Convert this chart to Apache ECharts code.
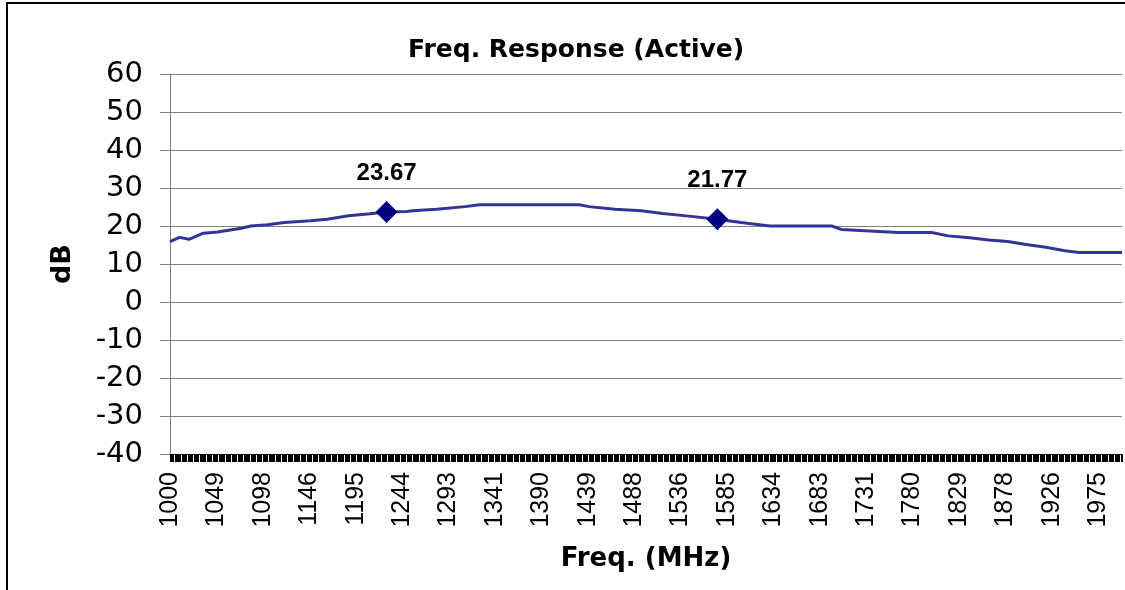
<!DOCTYPE html>
<html>
<head>
<meta charset="utf-8">
<script src="https://cdn.jsdelivr.net/npm/echarts@6/dist/echarts.min.js"></script>
<style>
  body { margin: 0; background: #fff; }
  #echartLine { width: 1125px; height: 590px; }
  #frame {
    position: absolute; left: 6px; top: 2px; width: 1200px; height: 700px;
    border-left: 2px solid #000; border-top: 2px solid #000; pointer-events: none;
  }
</style>
</head>
<body>
<div id="echartLine"></div>
<div id="frame"></div>
<script>
// sweep: 801 points, 1000 - 2000 MHz
const startFreq = 1000;
const stepFreq = 1.25;
const pointCount = 801;
const freqs = [];
for (let i = 0; i < pointCount; i++) {
  freqs.push(String(startFreq + i * stepFreq));
}

// trace (MHz, dB)
const traceFreq = [1000, 1010, 1020, 1035, 1050, 1075, 1085, 1102.5, 1120, 1147.5,
  1165, 1187.5, 1210, 1227.5, 1248.75, 1255, 1280, 1310, 1325, 1430,
  1440, 1467.5, 1495, 1517.5, 1545, 1575, 1600, 1630, 1695, 1705,
  1765, 1800, 1817.5, 1840, 1860, 1880, 1897.5, 1920, 1940, 1955, 2000];
const traceDb = [15.9, 17.0, 16.5, 18.1, 18.4, 19.4, 20.0, 20.3, 20.9, 21.4,
  21.8, 22.7, 23.2, 23.67, 23.8, 24.0, 24.4, 25.1, 25.6, 25.6,
  25.1, 24.4, 24.0, 23.3, 22.6, 21.77, 20.9, 20.0, 20.0, 19.1,
  18.3, 18.3, 17.4, 16.9, 16.3, 15.9, 15.2, 14.4, 13.5, 13.0, 13.0];

// markers (GPS L2 / L1)
const markerFreq = [1227.5, 1575];
const markerDb = [23.67, 21.77];

function idxOf(f) {
  return Math.round((f - startFreq) / stepFreq);
}

var chartDom = document.getElementById('echartLine');
var myChart = echarts.init(chartDom);
var option;

option = {
  animation: false,
  backgroundColor: '#fff',
  title: {
    text: 'Freq. Response (Active)',
    left: 403,
    top: 33,
    textStyle: { fontFamily: 'DejaVu Sans', fontWeight: 'bold', fontSize: 25, color: '#000' }
  },
  grid: { left: 170, right: 3, top: 74, bottom: 136 },
  xAxis: {
    type: 'category',
    data: freqs,
    boundaryGap: false,
    name: 'Freq. (MHz)',
    nameLocation: 'middle',
    nameGap: 92,
    nameTextStyle: { fontFamily: 'DejaVu Sans', fontWeight: 'bold', fontSize: 26, color: '#000' },
    axisLine: { onZero: false, lineStyle: { color: '#000', width: 1 } },
    axisTick: { interval: 0, length: 8, lineStyle: { color: '#000' } },
    axisLabel: {
      interval: 38,
      rotate: 90,
      margin: 18,
      fontFamily: 'Liberation Sans',
      fontSize: 25,
      color: '#000',
      formatter: function (v) { return String(Math.round(parseFloat(v))); }
    },
    splitLine: { show: false }
  },
  yAxis: {
    type: 'value',
    min: -40,
    max: 60,
    interval: 10,
    name: 'dB',
    nameLocation: 'middle',
    nameGap: 94,
    nameTextStyle: { fontFamily: 'DejaVu Sans', fontWeight: 'bold', fontSize: 27, color: '#000' },
    axisLine: { show: true, lineStyle: { color: '#808080' } },
    axisTick: { show: true, length: 10, lineStyle: { color: '#808080' } },
    axisLabel: { margin: 27, fontFamily: 'DejaVu Sans', fontSize: 29, color: '#000' },
    splitLine: { lineStyle: { color: '#808080', width: 1 } }
  },
  series: [
    {
      name: 'Response',
      type: 'line',
      showSymbol: false,
      symbol: 'none',
      lineStyle: { color: '#333399', width: 3 },
      data: traceFreq.map(function (f, i) { return [idxOf(f), traceDb[i]]; }),
      z: 2
    },
    {
      name: 'Markers',
      type: 'scatter',
      symbol: 'diamond',
      symbolSize: 22,
      itemStyle: { color: '#000080', opacity: 1 },
      label: {
        show: true,
        position: 'top',
        distance: 16,
        fontFamily: 'Liberation Sans',
        fontWeight: 'bold',
        fontSize: 24,
        color: '#000',
        formatter: function (p) { return p.value[1].toFixed(2); }
      },
      data: markerFreq.map(function (f, i) { return [idxOf(f), markerDb[i]]; }),
      z: 3
    }
  ]
};

option && myChart.setOption(option);
</script>
</body>
</html>
